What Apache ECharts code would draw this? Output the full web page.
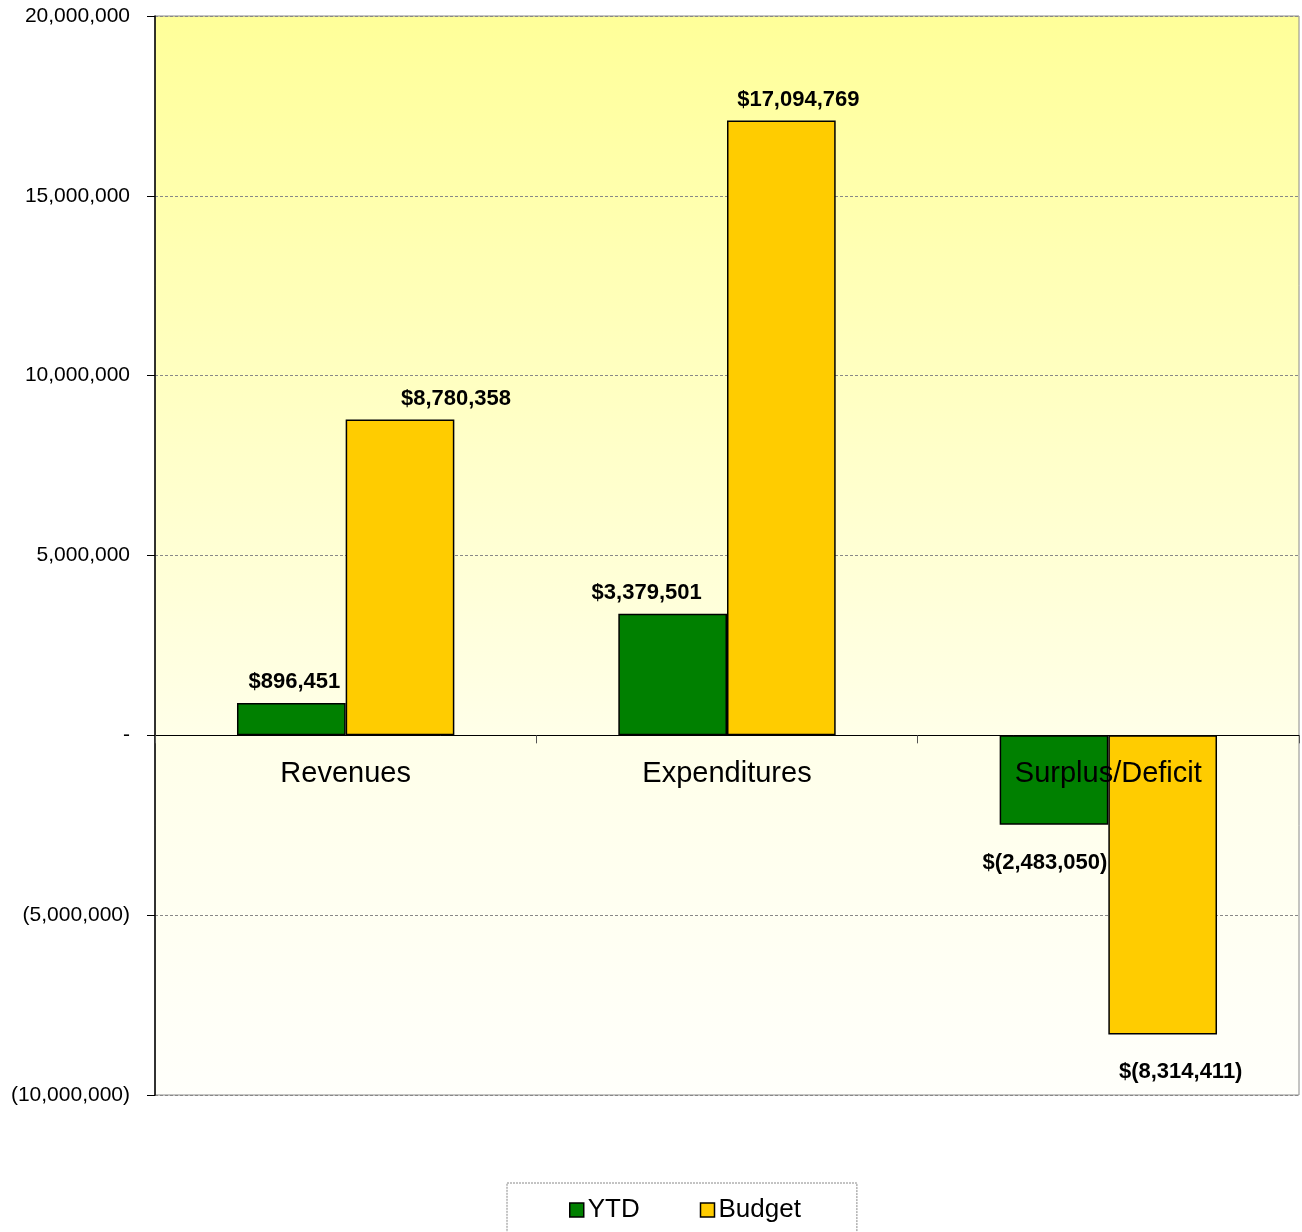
<!DOCTYPE html>
<html><head><meta charset="utf-8">
<script src="https://cdn.jsdelivr.net/npm/echarts@6/dist/echarts.min.js"></script>
<style>html,body{margin:0;padding:0;background:#fff}#c{width:1302px;height:1232px}</style>
</head><body><div id="c"></div>
<script>
const categories = ['Revenues', 'Expenditures', 'Surplus/Deficit'];
const ytd = [896451, 3379501, -2483050];
const budget = [8780358, 17094769, -8314411];
const seriesNames = ['YTD', 'Budget'];
const yMin = -10000000, yMax = 20000000, yStep = 5000000;

// label nudges (style only, px) mirroring the manually placed labels of the original
const ytdLabelDx = [3, -26, -9];
const budgetLabelDx = [56, 17, 18];

const FONT = '"Liberation Sans", Arial, sans-serif';
const GRID = { left: 155, right: 3, top: 16, bottom: 137 };
const plotH = 1232 - GRID.top - GRID.bottom;
const zeroOffset = -plotH * (0 - yMin) / (yMax - yMin);

function money(v) {
  const s = Math.abs(v).toLocaleString('en-US');
  return v < 0 ? '$(' + s + ')' : '$' + s;
}
function axisFmt(v) {
  if (v === 0) return '-';
  const s = Math.abs(v).toLocaleString('en-US');
  return v < 0 ? '(' + s + ')' : s;
}
function items(vals, dx) {
  return vals.map((v, i) => ({
    value: v,
    label: v < 0
      ? { position: 'bottom', distance: 27, offset: [dx[i], 0] }
      : { position: 'top', distance: 10, offset: [dx[i], 0] }
  }));
}
const labelStyle = {
  show: true, formatter: p => money(p.value),
  fontFamily: FONT, fontWeight: 'bold', fontSize: 22, color: '#000'
};

const chart = echarts.init(document.getElementById('c'), null, { renderer: 'canvas' });
chart.setOption({
  animation: false,
  backgroundColor: '#fff',
  grid: Object.assign({}, GRID, {
    show: true, borderColor: '#8a8a8a', borderWidth: 1,
    backgroundColor: new echarts.graphic.LinearGradient(0, 0, 0, 1, [
      { offset: 0, color: '#FFFF99' },
      { offset: 0.67, color: '#FFFFE9' },
      { offset: 1, color: '#FFFFFB' }
    ])
  }),
  legend: {
    data: seriesNames,
    left: 507, top: 1183,
    padding: [14, 56, 60, 62],
    borderColor: '#888', borderWidth: 1, borderType: [2, 1],
    itemWidth: 14, itemHeight: 14, itemGap: 60,
    icon: 'rect',
    itemStyle: { borderColor: '#000', borderWidth: 1.5 },
    textStyle: { fontFamily: FONT, fontSize: 26, color: '#000', padding: [0, 0, 0, -1] }
  },
  xAxis: [
    {
      type: 'category', data: categories, z: 10,
      axisLine: { onZero: true, onZeroAxisIndex: 0, lineStyle: { color: '#000', width: 1 } },
      axisTick: { show: true, length: 8, lineStyle: { color: '#555' } },
      axisLabel: { show: false },
      splitLine: { show: false }
    },
    {
      type: 'category', data: categories, z: 10, position: 'bottom',
      offset: zeroOffset,
      axisLine: { show: false, onZero: false },
      axisTick: { show: false },
      axisLabel: { fontFamily: FONT, fontSize: 29, color: '#000', margin: 24 },
      splitLine: { show: false }
    }
  ],
  yAxis: {
    type: 'value', min: yMin, max: yMax, interval: yStep,
    axisLine: { show: true, lineStyle: { color: '#000', width: 1.5 } },
    axisTick: { show: true, length: 8, lineStyle: { color: '#000' } },
    axisLabel: { fontFamily: FONT, fontSize: 21, color: '#000', margin: 25, formatter: axisFmt },
    splitLine: { show: true, lineStyle: { color: '#888', type: [3, 2], width: 1 } }
  },
  series: [
    {
      name: seriesNames[0], type: 'bar', data: items(ytd, ytdLabelDx),
      barGap: '0%', barCategoryGap: '43%',
      itemStyle: { color: '#008000', borderColor: '#000', borderWidth: 1.5 },
      label: labelStyle
    },
    {
      name: seriesNames[1], type: 'bar', data: items(budget, budgetLabelDx),
      barGap: '0%', barCategoryGap: '43%',
      itemStyle: { color: '#FFCC00', borderColor: '#000', borderWidth: 1.5 },
      label: labelStyle
    }
  ]
});
</script></body></html>
